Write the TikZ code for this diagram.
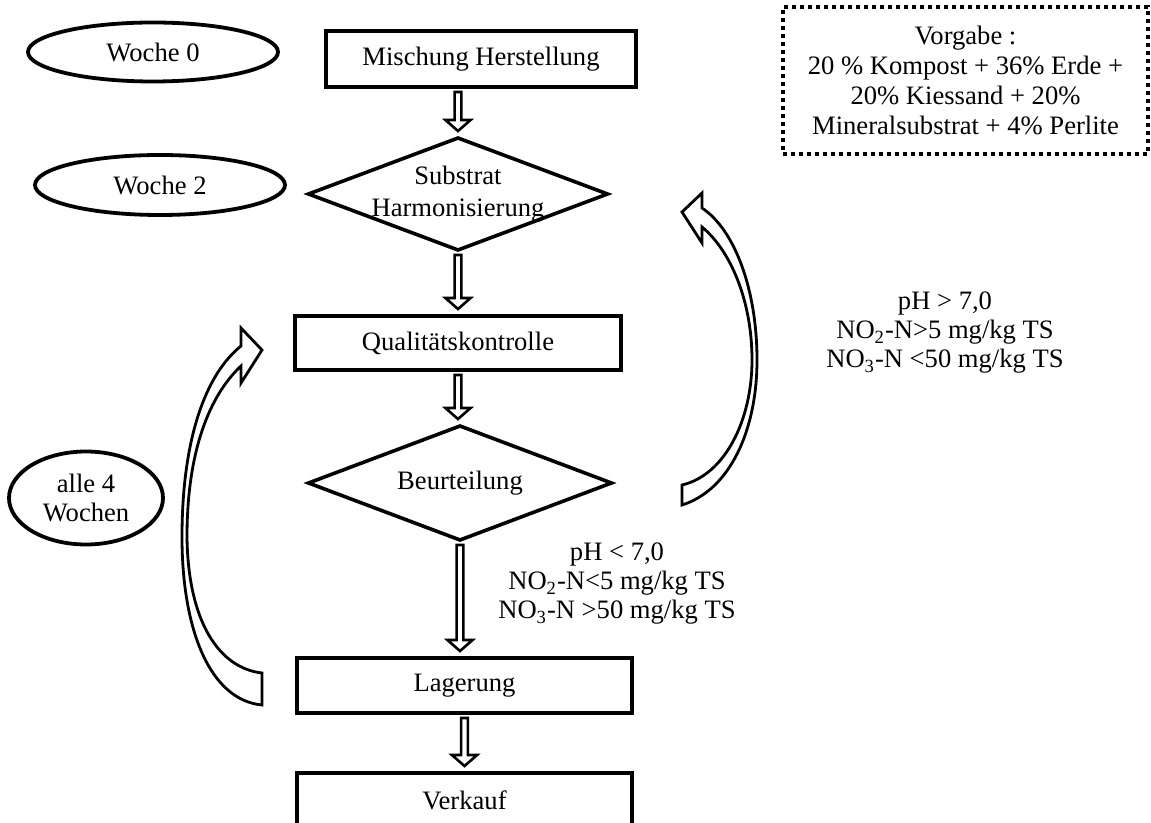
\documentclass[tikz,border=0pt]{standalone}
\usepackage{fontspec}
\setmainfont{Liberation Serif}
\usepackage{tikz}
\usetikzlibrary{shapes.geometric,calc}

\tikzset{
  box/.style={draw, line width=1.9pt, inner sep=0pt, outer sep=0pt},
  decide/.style={draw, diamond, line width=1.8pt, inner sep=0pt, outer sep=0pt},
  phase/.style={draw, ellipse, line width=1.9pt, inner sep=0pt, align=center},
  txt/.style={align=center, inner sep=0pt},
  hollow/.style={draw, fill=white, line width=1.3pt, line join=miter, to path={
      let \p1=(\tikztostart), \p2=(\tikztotarget) in
      (\x1-1.7pt,\y1-2.5pt) -- (\x1-1.7pt,\y2+9pt) -- (\x1-6.3pt,\y2+9pt)
      -- (\x1,\y2+3.5pt) -- (\x1+6.3pt,\y2+9pt) -- (\x1+1.7pt,\y2+9pt)
      -- (\x1+1.7pt,\y1-2.5pt) -- cycle}},
  band/.style={draw, fill=white, line width=1.4pt, line join=miter}
}

\begin{document}
\fontsize{13.3}{14.5}\selectfont
\begin{tikzpicture}[x=0.5pt,y=-0.5pt]
      \clip (0,0) rectangle (1151,823);
      \node[box, minimum width=155pt, minimum height=28pt] (1) at (481,59) {Mischung Herstellung};
      \node[decide, minimum width=149.5pt, minimum height=56pt,
            label={[txt, font=\fontsize{13.3}{16}\selectfont]center:Substrat\\Harmonisierung}] (2) at (458,194) {};
      \node[box, minimum width=163pt, minimum height=27pt] (3) at (458,343) {Qualitätskontrolle};
      \node[decide, minimum width=151.5pt, minimum height=57pt,
            label={[txt]center:Beurteilung}] (4) at (460,483) {};
      \node[box, minimum width=167.5pt, minimum height=27.5pt] (5) at (464.5,685.5) {Lagerung};
      \node[box, minimum width=167.5pt, minimum height=27.5pt] (6) at (464.5,800.5) {Verkauf};
      %% Weeks
      \node[phase, minimum width=125pt, minimum height=29.5pt] (7) at (153,52) {Woche 0};
      \node[phase, minimum width=125pt, minimum height=30pt] (8) at (160,185) {Woche 2};
      \node[phase, minimum width=77pt, minimum height=46.5pt] (9) at (86,498) {alle 4\\Wochen};
      %% Notes
      \node[box, dash pattern=on 2pt off 2pt, line width=2pt, align=center,
            minimum width=182.5pt, minimum height=73.5pt, font=\fontsize{13.3}{15}\selectfont] (10) at (965.5,80.5)
            {Vorgabe :\\20 \% Kompost + 36\% Erde +\\20\% Kiessand + 20\%\\Mineralsubstrat + 4\% Perlite};
      \node[txt] (11) at (945,333) {pH > 7,0\\NO\textsubscript{2}-N>5 mg/kg TS\\NO\textsubscript{3}-N <50 mg/kg TS};
      \node[txt] (12) at (617,584) {pH < 7,0\\NO\textsubscript{2}-N<5 mg/kg TS\\NO\textsubscript{3}-N >50 mg/kg TS};
      %% Vertical arrows
      \path[hollow] (1.south -| 2.north) to (2.north);
      \path[hollow] (2.south) to (3.north);
      \path[hollow] (3.south) to (4.north);
      \path[hollow] (4.south) to (5.north);
      \path[hollow] (5.south) to (6.north);
      %% Loops
      \draw[band] (262,673) .. controls (218,668) and (188,620) .. (187,537)
        .. controls (187,450) and (210,395) .. (241,366) -- (241,383) -- (262,350)
        -- (241,328) -- (241,346) .. controls (205,375) and (182,440) .. (182,537)
        .. controls (182,630) and (210,700) .. (262,705) -- cycle;
      \draw[band] (682,485) .. controls (725,475) and (752,420) .. (752,360)
        .. controls (752,300) and (730,250) .. (702,227) -- (702,243) -- (682,212)
        -- (702,193) -- (702,208) .. controls (735,230) and (757,290) .. (757,360)
        .. controls (757,430) and (730,490) .. (682,505) -- cycle;
    \end{tikzpicture}
\end{document}
